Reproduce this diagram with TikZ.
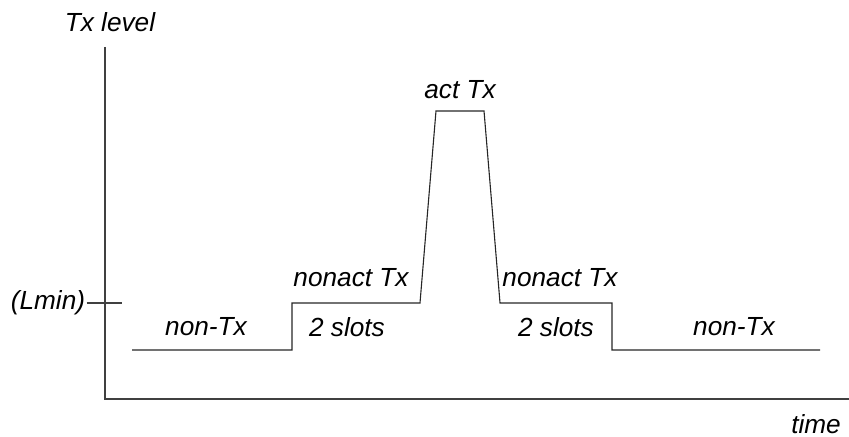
\documentclass[tikz,border=0pt]{standalone}
\usepackage{fontspec}
\setmainfont{Liberation Sans}
\begin{document}
\begin{tikzpicture}
	[	x=0.5pt, y=-0.5pt,
	lbl/.style={draw=none,fill=none,inner sep=0pt,font=\fontsize{13.1}{15}\selectfont\itshape},
	sig/.style={draw=black!85,line width=0.55pt},
	axis/.style={draw=black!75,line width=0.55pt}
	]
	\useasboundingbox (0,0) rectangle (849,437);
	% axes
	\coordinate (top) at (105,47);
	\coordinate (orig) at (105,399);
	\coordinate (right) at (849,399);
	\draw[axis] (top) -- (orig) -- (right);
	\node[lbl] (ylab) at (110,22){Tx level};
	\node[lbl] (xlab) at (816,424){time};
	\node[lbl] (lmin) at (48,303){(Lmin)};
	\coordinate (tick) at (122,303);
	\draw[axis] (lmin.east) ++(1,0) -- (tick);

	% signal
	\coordinate (s0) at (132,350);
	\coordinate (s1) at (292,350);
	\coordinate (s2) at (292,303);
	\coordinate (s3) at (420,303);
	\coordinate (s4) at (436,111);
	\coordinate (s5) at (484,111);
	\coordinate (s6) at (500,303);
	\coordinate (s7) at (612,303);
	\coordinate (s8) at (612,350);
	\coordinate (s9) at (820,350);
	\draw[sig] (s0) -- (s1) -- (s2) -- (s3) -- (s4) -- (s5) -- (s6) -- (s7) -- (s8) -- (s9);

	\node[lbl] (nontx1) at (206,327){non-Tx};
	\node[lbl] (nonact1) at (351,278){nonact Tx};
	\node[lbl] (slots1) at (347,327){2 slots};
	\node[lbl] (act) at (460,90){act Tx};
	\node[lbl] (nonact2) at (560,278){nonact Tx};
	\node[lbl] (slots2) at (556,327){2 slots};
	\node[lbl] (nontx2) at (734,327){non-Tx};
\end{tikzpicture}
\end{document}
